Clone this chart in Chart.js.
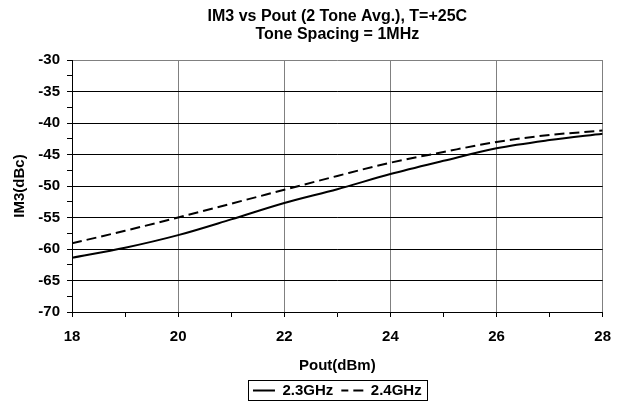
<!DOCTYPE html>
<html><head><meta charset="utf-8">
<script src="https://cdn.jsdelivr.net/npm/chart.js@4.4.1/dist/chart.umd.min.js"></script>
<style>html,body{margin:0;padding:0;background:#fff}</style>
</head><body>
<canvas id="c" width="622" height="404"></canvas>
<script>
// ---- data ----
const pout = [18, 19, 20, 21, 22, 23, 24, 25, 26, 27, 28];
const im3_23GHz = [-61.4, -59.8, -57.8, -55.3, -52.7, -50.5, -48.1, -46.0, -44.0, -42.7, -41.7];
const im3_24GHz = [-59.1, -57.1, -55.0, -52.8, -50.6, -48.4, -46.3, -44.6, -43.0, -41.9, -41.2];
const seriesNames = ['2.3GHz', '2.4GHz'];
const xTickLabels = [18, 20, 22, 24, 26, 28];
const yTickLabels = [-30, -35, -40, -45, -50, -55, -60, -65, -70];
const titleLines = ['IM3 vs Pout (2 Tone Avg.), T=+25C', 'Tone Spacing = 1MHz'];
const xTitle = 'Pout(dBm)';
const yTitle = 'IM3(dBc)';

const FONT = "'Liberation Sans', Arial, sans-serif";
Chart.defaults.font.family = FONT;
Chart.defaults.color = '#000';

const legendBorder = {
  id: 'legendBorder',
  afterDraw(chart) {
    const lg = chart.legend;
    if (!lg || !lg.legendHitBoxes || !lg.legendHitBoxes.length) return;
    const hb = lg.legendHitBoxes;
    const l = Math.min(...hb.map(h => h.left));
    const r = Math.max(...hb.map(h => h.left + h.width));
    const t = Math.min(...hb.map(h => h.top));
    const b = Math.max(...hb.map(h => h.top + h.height));
    const ctx = chart.ctx;
    ctx.save();
    ctx.strokeStyle = '#000';
    ctx.lineWidth = 1;
    ctx.strokeRect(Math.round(l - 5) + 0.5, Math.round(t - 3) + 0.5, Math.round(r - l + 10), Math.round(b - t + 5));
    ctx.restore();
  }
};

const toPts = ys => pout.map((x, i) => ({x, y: ys[i]}));

new Chart(document.getElementById('c'), {
  type: 'line',
  data: {
    datasets: [
      { label: seriesNames[0], data: toPts(im3_23GHz), borderColor: '#000', backgroundColor: '#000',
        borderWidth: 2, pointRadius: 0, cubicInterpolationMode: 'monotone', fill: false },
      { label: seriesNames[1], data: toPts(im3_24GHz), borderColor: '#000', backgroundColor: '#000',
        borderWidth: 2, borderDash: [10, 5], pointRadius: 0, cubicInterpolationMode: 'monotone', fill: false }
    ]
  },
  options: {
    responsive: false,
    animation: false,
    layout: { padding: { left: 0, right: 19, top: 0, bottom: 0 } },
    plugins: {
      title: {
        display: true, text: titleLines, fullSize: false, color: '#000',
        font: { size: 16, weight: 'bold', lineHeight: 1.07 },
        padding: { top: 8.5, bottom: 17.3 }
      },
      legend: {
        position: 'bottom', fullSize: false, maxHeight: 29,
        labels: {
          usePointStyle: true, pointStyle: 'line', pointStyleWidth: 22,
          padding: 8, color: '#000', font: { size: 15, weight: 'bold' },
          generateLabels: chart => Chart.defaults.plugins.legend.labels.generateLabels(chart).map(item => {
            const ds = chart.data.datasets[item.datasetIndex];
            item.lineDash = ds.borderDash || [];
            item.lineDashOffset = ds.borderDash ? 3 : 0;
            item.lineWidth = ds.borderWidth;
            item.strokeStyle = ds.borderColor;
            item.pointStyle = 'line';
            return item;
          })
        }
      },
      tooltip: { enabled: false }
    },
    scales: {
      x: {
        type: 'linear', min: 18, max: 28,
        afterFit: s => { s.height = 63; },
        ticks: {
          stepSize: 1, autoSkip: false, maxRotation: 0, padding: 11,
          font: { size: 15, weight: 'bold' }, color: '#000',
          callback: v => xTickLabels.includes(v) ? String(v) : ''
        },
        grid: {
          color: c => (c.tick && xTickLabels.includes(c.tick.value) && c.tick.value !== 18) ? '#808080' : 'rgba(0,0,0,0)',
          tickColor: '#000', tickLength: 5, lineWidth: 1
        },
        border: { display: true, color: '#000', width: 1 },
        title: { display: true, text: xTitle, font: { size: 15, weight: 'bold' }, color: '#000', padding: { top: 0, bottom: 0 } }
      },
      y: {
        type: 'linear', min: -70, max: -30,
        afterFit: s => { s.width = 72; },
        ticks: {
          stepSize: 2.5, autoSkip: false, padding: 7,
          font: { size: 15, weight: 'bold' }, color: '#000',
          callback: v => yTickLabels.includes(v) ? String(v) : ''
        },
        grid: {
          color: c => {
            if (!c.tick || !yTickLabels.includes(c.tick.value) || c.tick.value === -70) return 'rgba(0,0,0,0)';
            return c.tick.value === -30 ? '#808080' : '#000';
          },
          tickColor: '#000', tickLength: 5, lineWidth: 1
        },
        border: { display: true, color: '#000', width: 1 },
        title: { display: true, text: yTitle, font: { size: 15, weight: 'bold' }, color: '#000', padding: { top: 11, bottom: 0 } }
      }
    }
  },
  plugins: [legendBorder]
});
</script>
</body></html>
